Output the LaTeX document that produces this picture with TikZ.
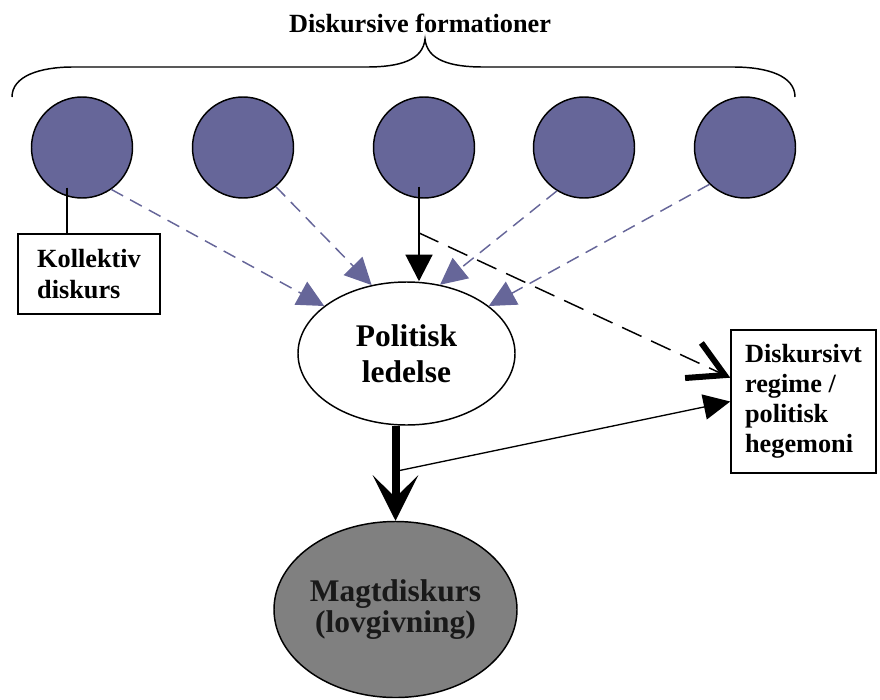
\documentclass[tikz,border=0pt]{standalone}
\usepackage{fontspec}
\setmainfont{Liberation Serif}
\usetikzlibrary{shapes.geometric,arrows.meta,calc}
\definecolor{disc}{HTML}{666699}
\definecolor{mgray}{HTML}{808080}
\begin{document}
\begin{tikzpicture}[x=0.75pt,y=-0.75pt,
  circ/.style={circle,draw,line width=1.1pt,fill=disc,minimum size=75.75pt,inner sep=0pt},
  lbox/.style={draw,line width=1.1pt,align=left,inner sep=0pt},
  smallfont/.style={font=\fontsize{19.7pt}{23.25pt}\selectfont\bfseries},
  bigfont/.style={font=\fontsize{23.6pt}{27pt}\selectfont\bfseries},
  bdash/.style={draw=disc,line width=1.1pt,dash pattern=on 10pt off 6pt,
    -{Triangle[length=20pt,width=19.5pt,fill=disc]}},
  kdash/.style={line width=1.1pt,dash pattern=on 16pt off 8pt,
    -{Straight Barb[length=26pt,width=29pt,line width=4.5pt]}},
  varrow/.style={line width=2.2pt,-{Triangle[length=20pt,width=20pt]}},
  tarrow/.style={line width=6pt,-{Stealth[length=34pt,width=34pt,inset=16.5pt]}},
  tharrow/.style={line width=1pt,-{Triangle[length=20pt,width=19pt]}}
]
\useasboundingbox (0,0) rectangle (880,699);

% brace and title
\draw[line width=1.1pt] (12,97) .. controls (12,76) and (40,67) .. (73,67) -- (367,67)
  .. controls (400,67) and (423,60) .. (425,39)
  .. controls (427,60) and (450,67) .. (483,67) -- (733,67)
  .. controls (768,67) and (795,76) .. (795,97);
\node[smallfont,anchor=base,inner sep=0pt] (title) at (420,33) {Diskursive formationer};

% circles
\node[circ] (c1) at (82,147.5) {};
\node[circ] (c2) at (243,147.5) {};
\node[circ] (c3) at (424,147.5) {};
\node[circ] (c4) at (584,147.5) {};
\node[circ] (c5) at (745,147.5) {};

% boxes and ellipses
\node[lbox,smallfont,minimum width=106.5pt,minimum height=60pt] (kd) at (89,274) {Kollektiv\\diskurs};
\node[lbox,font=\fontsize{19.7pt}{22.5pt}\selectfont\bfseries,minimum width=108.75pt,minimum height=107.25pt] (db) at (803.5,401.5) {Diskursivt\\regime /\\politisk\\hegemoni};
\node[ellipse,draw,line width=1.1pt,fill=white,minimum width=162.75pt,minimum height=107.25pt,inner sep=0pt,align=center,bigfont] (pl) at (406.5,353.5) {Politisk\\ledelse};
\node[ellipse,draw,line width=1.1pt,fill=mgray,minimum width=182.25pt,minimum height=132pt,inner sep=0pt,align=center,font=\fontsize{23.6pt}{23.25pt}\selectfont\bfseries,text=black!90] (md) at (395.5,609.5) {Magtdiskurs\\(lovgivning)};

% connectors
\coordinate (k1) at ($(c1.center)+(-15,40)$);
\draw[line width=1.1pt] (k1) -- (k1 |- kd.north);

\draw[bdash] (c1.-55) -- (pl.150);
\draw[bdash] (c2.-50) -- (pl.117);
\draw[bdash] (c4.-122) -- (pl.64);
\draw[bdash] (c5.-134) -- (pl.30);

\coordinate (s3) at ($(c3.center)+(-5,39)$);
\coordinate (e3) at (s3 |- pl.north);
\draw[varrow] (s3) -- (e3);
\coordinate (j1) at ($(s3)!0.49!(e3)$);
\draw[kdash] (j1) -- (db.162);

\coordinate (t0) at (md.north |- pl.south);
\draw[tarrow] (t0) -- (md.north);
\coordinate (j2) at ($(t0)!0.48!(md.north)$);
\draw[tharrow] (j2) -- (db.west);
\end{tikzpicture}
\end{document}
